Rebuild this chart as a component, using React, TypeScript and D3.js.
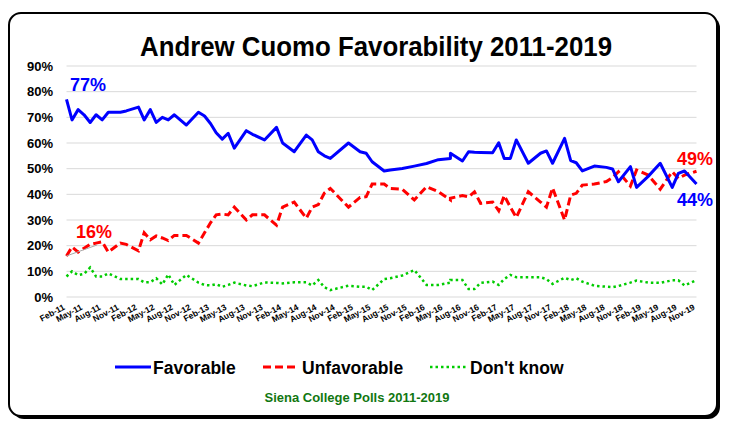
import React from "react";
import * as d3 from "d3";

const pollDates = [
  "2011-02","2011-03","2011-04","2011-05","2011-06","2011-07","2011-08","2011-09","2011-11","2011-12",
  "2012-02","2012-03","2012-04","2012-05","2012-06","2012-07","2012-08","2012-10","2012-12",
  "2013-01","2013-02","2013-03","2013-04","2013-05","2013-06","2013-08","2013-09","2013-11",
  "2014-01","2014-02","2014-04","2014-06","2014-07","2014-08","2014-09","2014-10",
  "2015-01","2015-03","2015-04","2015-05","2015-07","2015-08","2015-10","2015-12",
  "2016-02","2016-04","2016-06","2016-06","2016-08","2016-09","2016-10","2016-11",
  "2017-01","2017-02","2017-03","2017-04","2017-05","2017-07","2017-09","2017-10","2017-11",
  "2018-01","2018-02","2018-03","2018-04","2018-06","2018-08","2018-09","2018-10","2018-12",
  "2019-01","2019-03","2019-05","2019-07","2019-08","2019-09","2019-11"
];

const favorable = [
  77, 69, 73, 71, 68, 71, 69, 72, 72, 72.5,
  74, 69, 73, 68, 70, 69, 71, 67, 72,
  70.5, 67.5, 64, 61.5, 63.8, 58, 64.8, 63.4, 61.2,
  66.1, 60, 56.6, 63.1, 61.2, 56.6, 55, 54,
  60, 56.6, 56, 52.7, 49.1, 49.5, 50.1, 51,
  52, 53.5, 54, 56, 53, 56.6, 56.4, 56.3,
  56.2, 60.1, 54, 54, 61.2, 52.1, 56, 56.9, 52.1,
  61.8, 53.1, 52.3, 49.1, 51, 50.5, 49.9, 44.9, 50.8,
  42.7, 47, 52.1, 42.7, 48.2, 49.1, 44
];

const unfavorable = [
  16, 19.5, 17.5, 19, 20.5, 21, 21.5, 17.5, 21, 20.5,
  18, 25, 22.3, 23.8, 23, 22, 24, 24, 21,
  25, 29, 32, 32.3, 32, 35, 30, 32, 32,
  28, 35, 37, 30.7, 35, 36, 40.5, 42.3,
  35, 38.8, 39.1, 44, 44, 42.3, 42, 37.8,
  43, 41, 37.8, 38.5, 39.5, 39, 41, 36.5,
  37, 33.6, 39.5, 35, 31, 41, 37, 35, 42.5,
  30, 39.7, 40.4, 43.6, 44, 45, 46.5, 48.8, 43.2,
  49.5, 47.5, 42, 48.8, 46.2, 47.5, 49
];

const dontKnow = [
  8, 10, 8.5, 9, 11.5, 8, 8, 9.2, 7, 7,
  7, 5.7, 5.8, 7.3, 4.9, 8.8, 4.7, 8.6, 5.6,
  4.7, 4.5, 5, 4, 4.7, 5.6, 4.5, 4.2, 5.7,
  5.5, 5.3, 5.7, 5.7, 4.5, 6.6, 3.8, 2.7,
  4.4, 4, 4, 2.7, 7, 7.3, 8.4, 10.5,
  4.7, 4.7, 5.6, 6.6, 6.6, 3.1, 3.1, 5.5,
  6, 4.7, 7, 8.6, 7.7, 7.7, 7.7, 7, 5.1,
  7.5, 6.6, 7.3, 6, 4.4, 4, 3.8, 4.3, 5.6,
  6.4, 5.6, 5.5, 6.5, 6.5, 4.5, 6.6
];

const yTicks = [0, 10, 20, 30, 40, 50, 60, 70, 80, 90];
const seriesNames = ["Favorable", "Unfavorable", "Don't know"];
const title = "Andrew Cuomo Favorability 2011-2019";
const subtitle = "Siena College Polls 2011-2019";

const FONT = "'Liberation Sans', Arial, sans-serif";

export default function App() {
  const parse = d3.timeParse("%Y-%m");
  const dates = pollDates.map((s) => parse(s) as Date);
  const first = dates[0];
  const last = dates[dates.length - 1];
  const x = d3.scaleTime().domain([first, last]).range([66.5, 696.5]);
  const y = d3.scaleLinear().domain([0, 90]).range([297, 66]);
  const mk = (vals: number[]) =>
    d3
      .line<number>()
      .x((_, i) => x(dates[i]))
      .y((d) => y(d))(vals) as string;
  const fmt = d3.timeFormat("%b-%y");
  const ticks = d3
    .timeMonth.range(first, d3.timeMonth.offset(last, 1))
    .filter((_, i) => i % 3 === 0);

  const blue = "#0000FF";
  const red = "#FF0000";
  const green = "#00CC00";

  return (
    <svg
      width={731}
      height={429}
      style={{ position: "absolute", left: 0, top: 0, fontFamily: FONT }}
    >
      <rect x={0} y={0} width={731} height={429} fill="#fff" />
      <rect x={12} y={16} width={708} height={403} rx={12} fill="#000" />
      <rect x={9} y={13} width={708} height={403} rx={12} fill="#fff" stroke="#000" strokeWidth={2} />
      <text
        x={376}
        y={56}
        textAnchor="middle"
        fontSize={27}
        fontWeight="bold"
        textLength={472}
        lengthAdjust="spacingAndGlyphs"
      >
        {title}
      </text>
      {yTicks.map((t) => (
        <g key={t}>
          <line x1={66.5} x2={696.5} y1={y(t)} y2={y(t)} stroke="#d9d9d9" strokeWidth={1} />
          <text x={53} y={y(t) + 4.5} textAnchor="end" fontSize={13} fontWeight="bold">
            {t}%
          </text>
        </g>
      ))}
      {ticks.map((d, i) => (
        <text
          key={i}
          transform={`translate(${x(d) - 1},${309}) rotate(-28)`}
          textAnchor="end"
          fontSize={8.5}
          fontWeight="bold"
        >
          {fmt(d)}
        </text>
      ))}
      <path d={mk(dontKnow)} fill="none" stroke={green} strokeWidth={2.5} strokeDasharray="2.5,3" />
      <path d={mk(unfavorable)} fill="none" stroke={red} strokeWidth={3} strokeDasharray="8,4" />
      <path d={mk(favorable)} fill="none" stroke={blue} strokeWidth={3} strokeLinejoin="round" />
      <line
        x1={x(dates[0])}
        y1={y(unfavorable[0])}
        x2={97}
        y2={245}
        stroke="#a6a6a6"
        strokeWidth={1}
      />
      <text x={70} y={91} fill={blue} fontSize={18} fontWeight="bold">
        {favorable[0]}%
      </text>
      <text x={76} y={238} fill={red} fontSize={18} fontWeight="bold">
        {unfavorable[0]}%
      </text>
      <text x={677} y={165} fill={red} fontSize={18} fontWeight="bold">
        {unfavorable[unfavorable.length - 1]}%
      </text>
      <text x={677} y={206} fill={blue} fontSize={18} fontWeight="bold">
        {favorable[favorable.length - 1]}%
      </text>
      {/* legend */}
      <line x1={115} x2={151} y1={367} y2={367} stroke={blue} strokeWidth={3} />
      <text x={153} y={373.5} fontSize={17.5} fontWeight="bold">{seriesNames[0]}</text>
      <line x1={263} x2={297} y1={367} y2={367} stroke={red} strokeWidth={3} strokeDasharray="8,4" />
      <text x={302} y={373.5} fontSize={17.5} fontWeight="bold">{seriesNames[1]}</text>
      <line x1={430} x2={466} y1={367} y2={367} stroke={green} strokeWidth={2.5} strokeDasharray="2.5,3" />
      <text x={470} y={373.5} fontSize={17.5} fontWeight="bold">{seriesNames[2]}</text>
      <text x={357} y={402} textAnchor="middle" fontSize={13} fontWeight="bold" fill="#117711">
        {subtitle}
      </text>
    </svg>
  );
}
